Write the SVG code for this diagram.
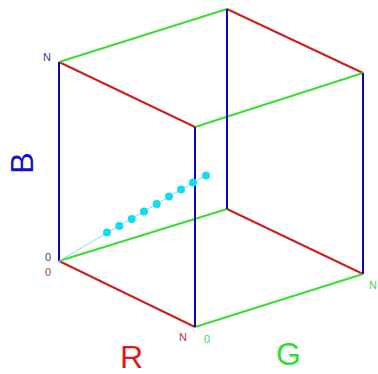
<svg xmlns="http://www.w3.org/2000/svg" width="378" height="374" viewBox="0 0 378 374">
<style>
.r{stroke:#cc1f1f;stroke-width:2;fill:none}
.g{stroke:#3ddc2e;stroke-width:2;fill:none}
.b{stroke:#0a0ab8;stroke-width:2;fill:none}
.dot{fill:#14dcf0}
.t{font-family:"Liberation Sans",Arial,sans-serif}
.s{font-size:11px}
.big{font-size:32px}
</style>
<rect width="378" height="374" fill="#fff"/>
<g id="connectors">
<line class="r" x1="59" y1="261" x2="195" y2="327"/>
<line class="r" x1="59" y1="62" x2="195" y2="127"/>
<line class="r" x1="227" y1="209" x2="363" y2="274"/>
<line class="r" x1="227" y1="9" x2="363" y2="73"/>
<line class="g" x1="59" y1="261" x2="227" y2="209"/>
<line class="g" x1="59" y1="62" x2="227" y2="9"/>
<line class="g" x1="195" y1="327" x2="363" y2="274"/>
<line class="g" x1="195" y1="127" x2="363" y2="73"/>
<line class="b" x1="59" y1="261" x2="59" y2="62"/>
<line class="b" x1="195" y1="327" x2="195" y2="127"/>
<line class="b" x1="227" y1="209" x2="227" y2="9"/>
<line class="b" x1="363" y1="274" x2="363" y2="73"/>
</g>
<g id="trajectory">
<line x1="59" y1="261" x2="206" y2="175" stroke="#7fdcf0" stroke-width="1"/>
<circle class="dot" cx="107" cy="232.5" r="4"/>
<circle class="dot" cx="119.3" cy="226" r="4"/>
<circle class="dot" cx="131.7" cy="219" r="4"/>
<circle class="dot" cx="144" cy="211.5" r="4"/>
<circle class="dot" cx="156.7" cy="204" r="4"/>
<circle class="dot" cx="169" cy="196.5" r="4"/>
<circle class="dot" cx="181" cy="189.5" r="4"/>
<circle class="dot" cx="193" cy="182.5" r="4"/>
<circle class="dot" cx="206" cy="175.5" r="4"/>
</g>
<g id="labels">
<text class="t s" x="51" y="61" text-anchor="end" fill="#3a3a9a">N</text>
<text class="t s" x="51" y="261" text-anchor="end" fill="#3a3a9a">0</text>
<text class="t s" x="51" y="276" text-anchor="end" fill="#b03a3a">0</text>
<text class="t s" x="187" y="341" text-anchor="end" fill="#b03a3a">N</text>
<text class="t s" x="204" y="343" fill="#55cc55">0</text>
<text class="t s" x="369" y="289" fill="#55cc55">N</text>
<text class="t big" transform="translate(33,163) rotate(-90)" text-anchor="middle" fill="#1010c8">B</text>
<text class="t big" x="120" y="368" fill="#dd1a1a">R</text>
<text class="t big" x="276" y="365" fill="#33dd33">G</text>
</g>
</svg>
